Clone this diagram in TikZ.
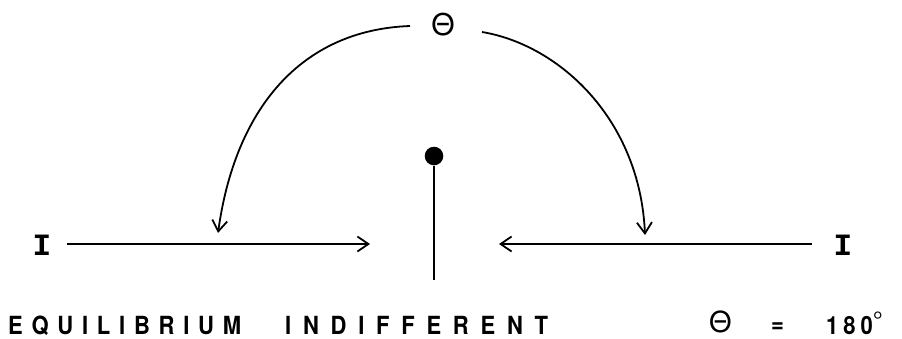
\documentclass[tikz,border=0pt]{standalone}
\usepackage{fontspec}
\setmainfont{TeX Gyre Heros}
\newfontfamily\monoI{Liberation Mono}
\newfontfamily\letterfont[FakeStretch=0.88]{TeX Gyre Heros Bold}
\usetikzlibrary{arrows.meta}
\begin{document}
\begin{tikzpicture}[x=1pt,y=-1pt,
  stroke/.style={line width=1.8pt},
  arr/.style={stroke, -{Straight Barb[length=11pt,width=15pt,line width=1.8pt]}},
  lbl/.style={inner sep=0pt, font=\letterfont\fontsize{25}{26}\selectfont},
  ilbl/.style={inner sep=0pt, font=\monoI\bfseries\fontsize{31}{33}\selectfont},
 ]
\useasboundingbox (0,0) rectangle (902,338);
% top theta and arcs
\node[inner sep=0pt, font=\fontsize{30}{32}\selectfont] (theta) at (443,25) {Θ};
\coordinate (aL) at (410,26);
\coordinate (aR) at (482,32);
\coordinate (tL) at (218,233);
\coordinate (tR) at (645,235);
\draw[arr] (aL) .. controls (300,30) and (235,110) .. (tL);
\draw[arr] (aR) .. controls (560,45) and (640,120) .. (tR);
% side labels and horizontal arrows
\node[ilbl] (lI) at (42,245) {I};
\node[ilbl] (rI) at (843,245) {I};
\coordinate (hL0) at (67,244);
\coordinate (hL1) at (370,244);
\coordinate (hR0) at (812,244);
\coordinate (hR1) at (499,244);
\draw[arr] (hL0) -- (hL1);
\draw[arr] (hR0) -- (hR1);
% pendulum
\node[circle, fill=black, inner sep=0pt, minimum size=18.6pt] (bob) at (434,156) {};
\coordinate (base) at (434,280);
\draw[stroke] (bob.south) -- (base);
% bottom texts
\node[lbl, anchor=base west] (equi) at (8,334) {\addfontfeature{LetterSpace=35}EQUILIBRIUM};
\node[lbl, anchor=base west] (indi) at (285,334) {\addfontfeature{LetterSpace=47}INDIFFERENT};
\node[inner sep=0pt, anchor=base west, font=\fontsize{29}{30}\selectfont] (th2) at (709,332.5) {Θ};
\node[lbl, anchor=base west] (eqs) at (771,332) {=};
\node[lbl, anchor=base west] (val) at (826,334) {\addfontfeature{LetterSpace=20}180\raisebox{5pt}{\normalfont\fontsize{25}{26}\selectfont°}};
\end{tikzpicture}
\end{document}
